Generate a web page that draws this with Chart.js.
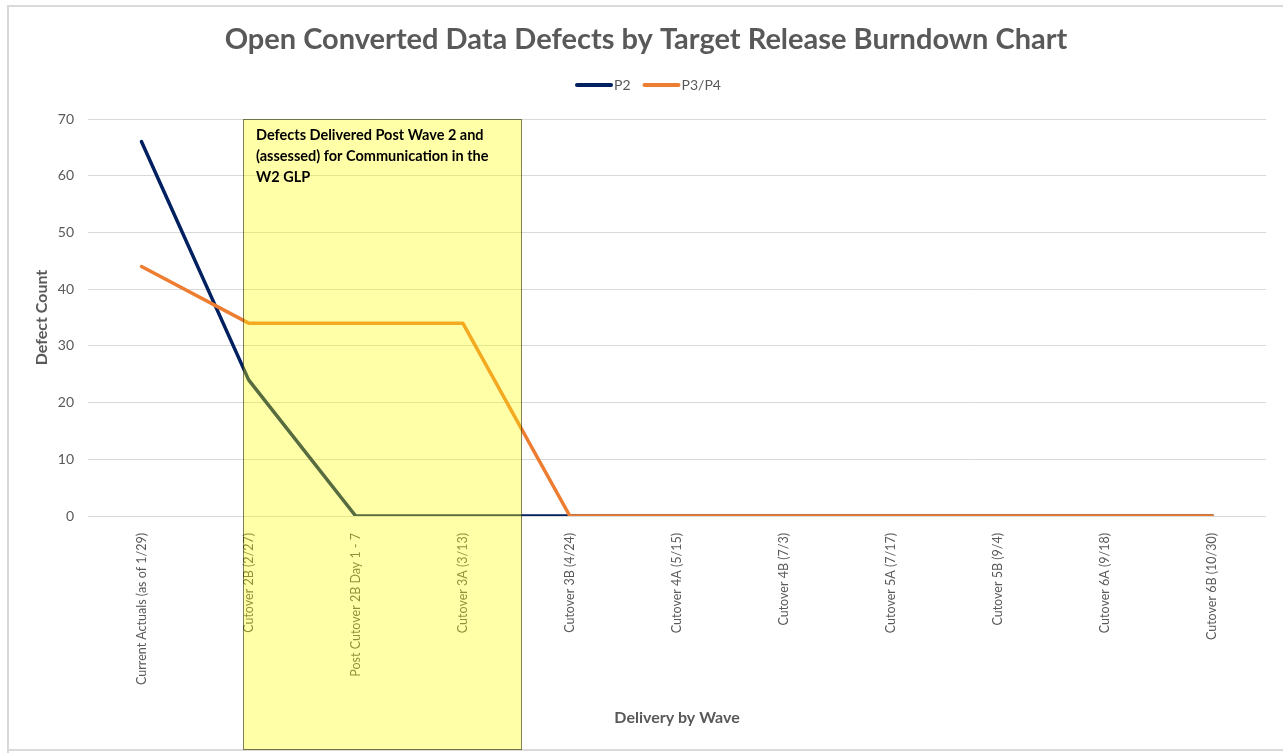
<!DOCTYPE html>
<html>
<head>
<meta charset="utf-8">
<script src="https://cdn.jsdelivr.net/npm/chart.js@4.4.0/dist/chart.umd.min.js"></script>
<style>
  html, body { margin: 0; padding: 0; background: #ffffff; }
  #wrap { position: relative; width: 1283px; height: 753px; }
</style>
</head>
<body>
<div id="wrap"><canvas id="c" width="1283" height="753"></canvas></div>
<script>
// ---------- data ----------
const categories = [
  'Current Actuals (as of 1/29)',
  'Cutover 2B (2/27)',
  'Post Cutover 2B Day 1 - 7',
  'Cutover 3A (3/13)',
  'Cutover 3B (4/24)',
  'Cutover 4A (5/15)',
  'Cutover 4B (7/3)',
  'Cutover 5A (7/17)',
  'Cutover 5B (9/4)',
  'Cutover 6A (9/18)',
  'Cutover 6B (10/30)'
];
const p2Values   = [66, 24, 0, 0, 0, 0, 0, 0, 0, 0, 0];
const p3p4Values = [44, 34, 34, 34, 0, 0, 0, 0, 0, 0, 0];
const yTicks = [0, 10, 20, 30, 40, 50, 60, 70];
const seriesLabels = ['P2', 'P3/P4'];
const seriesColors = ['#002060', '#ED7D31'];
const chartTitle = 'Open Converted Data Defects by Target Release Burndown Chart';
const xAxisTitle = 'Delivery by Wave';
const yAxisTitle = 'Defect Count';
const noteLines = [
  'Defects Delivered Post Wave 2 and',
  '(assessed) for Communication in the',
  'W2 GLP'
];
// highlighted window, expressed in category-index units
const noteRange = [0.952, 3.548];

// ---------- drawing helpers ----------
const decorPlugin = {
  id: 'decor',
  beforeDraw(chart) {
    const ctx = chart.ctx;
    ctx.save();
    ctx.fillStyle = '#ffffff';
    ctx.fillRect(0, 0, chart.width, chart.height);
    // outer frame
    ctx.strokeStyle = '#d9d9d9';
    ctx.lineWidth = 2;
    ctx.beginPath();
    ctx.moveTo(8, chart.height);
    ctx.lineTo(8, 6);
    ctx.lineTo(chart.width + 2, 6);
    ctx.moveTo(8, 750);
    ctx.lineTo(chart.width + 2, 750);
    ctx.stroke();
    ctx.restore();
  },
  afterDraw(chart) {
    const ctx = chart.ctx;
    const xs = chart.scales.x, ys = chart.scales.y;
    ctx.save();
    // highlight box
    const left = Math.round(xs.getPixelForValue(noteRange[0]));
    const right = Math.round(xs.getPixelForValue(noteRange[1]));
    const top = Math.round(ys.getPixelForValue(yTicks[yTicks.length - 1]));
    const bottom = 750;
    ctx.fillStyle = 'rgba(255,255,0,0.34)';
    ctx.fillRect(left, top, right - left, bottom - top);
    ctx.strokeStyle = '#000000';
    ctx.lineWidth = 1;
    ctx.setLineDash([1, 1]);
    ctx.strokeRect(left + 0.5, top + 0.5, right - left - 1, bottom - top - 1);
    ctx.setLineDash([]);
    // note text
    ctx.fillStyle = '#000000';
    ctx.font = 'bold 14.5px Lato';
    ctx.textAlign = 'left';
    ctx.textBaseline = 'middle';
    noteLines.forEach((t, i) => ctx.fillText(t, left + 13, top + 16 + i * 21));

    // title
    ctx.fillStyle = '#595959';
    ctx.font = 'bold 29px Lato';
    ctx.textAlign = 'center';
    ctx.textBaseline = 'middle';
    ctx.fillText(chartTitle, 646, 40);

    // legend
    ctx.font = '14px Lato';
    ctx.textAlign = 'left';
    let x = 576;
    const y = 85;
    chart.data.datasets.forEach((ds) => {
      ctx.strokeStyle = ds.borderColor;
      ctx.lineWidth = 4;
      ctx.lineCap = 'round';
      ctx.beginPath();
      ctx.moveTo(x + 1, y);
      ctx.lineTo(x + 35, y);
      ctx.stroke();
      x += 38;
      ctx.fillStyle = '#595959';
      ctx.fillText(ds.label, x, y);
      x += ctx.measureText(ds.label).width + 13;
    });
    ctx.restore();
  }
};

new Chart(document.getElementById('c'), {
  type: 'line',
  data: {
    labels: categories,
    datasets: [
      { label: seriesLabels[0], data: p2Values, borderColor: seriesColors[0], backgroundColor: seriesColors[0],
        borderWidth: 3.5, pointRadius: 0, tension: 0, order: 2, borderJoinStyle: 'round', borderCapStyle: 'round' },
      { label: seriesLabels[1], data: p3p4Values, borderColor: seriesColors[1], backgroundColor: seriesColors[1],
        borderWidth: 3.5, pointRadius: 0, tension: 0, order: 1, borderJoinStyle: 'round', borderCapStyle: 'round' }
    ]
  },
  options: {
    responsive: false,
    animation: false,
    devicePixelRatio: 1,
    layout: { padding: { top: 119, left: 0, right: 17, bottom: 0 } },
    plugins: {
      legend: { display: false },
      title: { display: false },
      tooltip: { enabled: false }
    },
    scales: {
      x: {
        type: 'category',
        offset: true,
        grid: { display: false },
        border: { display: false },
        ticks: {
          autoSkip: false, minRotation: 90, maxRotation: 90, padding: 9,
          color: '#595959', font: { family: 'Lato', size: 12.5 }
        },
        title: {
          display: true, text: xAxisTitle, color: '#595959',
          font: { family: 'Lato', size: 16, weight: 'bold' },
          padding: { top: 0, bottom: 26 }
        },
        afterFit(s) { s.height = 237; }
      },
      y: {
        min: yTicks[0], max: yTicks[yTicks.length - 1],
        afterBuildTicks(s) { s.ticks = yTicks.map(v => ({ value: v })); },
        grid: { color: '#d9d9d9', lineWidth: 1, drawTicks: false },
        border: { display: false },
        ticks: { padding: 14, color: '#595959', font: { family: 'Lato', size: 14 } },
        title: {
          display: true, text: yAxisTitle, color: '#595959',
          font: { family: 'Lato', size: 16, weight: 'bold' },
          padding: { top: 32, bottom: 0 }
        },
        afterFit(s) { s.width = 88; }
      }
    }
  },
  plugins: [decorPlugin]
});
</script>
</body>
</html>
